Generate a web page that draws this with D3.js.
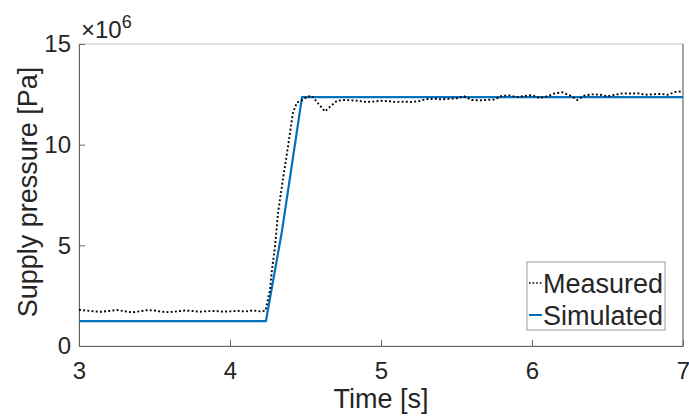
<!DOCTYPE html>
<html>
<head>
<meta charset="utf-8">
<script src="https://cdn.jsdelivr.net/npm/d3@7"></script>
<style>
  body { margin: 0; background: #fff; }
  text { font-family: "Liberation Sans", Arial, sans-serif; fill: #262626; }
</style>
</head>
<body>
<div id="chart"></div>
<script>
'use strict';

// measured supply pressure, time [s] / pressure [Pa]
var measuredTime = [3.00, 3.05, 3.10, 3.15, 3.20, 3.25, 3.30, 3.35, 3.40, 3.45, 3.50, 3.55, 3.60, 3.65, 3.70,
    3.75, 3.80, 3.85, 3.90, 3.95, 4.00, 4.05, 4.10, 4.15, 4.20, 4.235,
    4.265, 4.278, 4.298, 4.318, 4.351, 4.384, 4.417, 4.444, 4.477, 4.51, 4.543, 4.583, 4.629, 4.669, 4.709, 4.76,
    4.80, 4.85, 4.90, 4.95, 5.00, 5.05, 5.10, 5.15, 5.20, 5.25, 5.30, 5.35, 5.40, 5.45, 5.50, 5.55, 5.60, 5.65,
    5.70, 5.75, 5.80, 5.85, 5.90, 5.95, 6.00, 6.05, 6.10, 6.15, 6.20, 6.25, 6.30, 6.35, 6.40, 6.45, 6.50, 6.55,
    6.60, 6.65, 6.70, 6.75, 6.80, 6.85, 6.90, 6.95, 7.00];
var measuredPa = [1.80, 1.76, 1.72, 1.70, 1.74, 1.79, 1.73, 1.67, 1.72, 1.78, 1.76, 1.70, 1.68, 1.72, 1.76,
    1.74, 1.70, 1.73, 1.74, 1.71, 1.72, 1.75, 1.71, 1.77, 1.72, 1.75,
    2.8, 3.8, 4.95, 6.6, 8.3, 9.9, 11.6, 12.1, 12.2, 12.38, 12.42, 12.05, 11.65, 11.93, 12.18, 12.22,
    12.20, 12.18, 12.12, 12.14, 12.18, 12.16, 12.12, 12.14, 12.12, 12.16, 12.26, 12.28, 12.25, 12.28, 12.30, 12.40, 12.22, 12.20,
    12.22, 12.24, 12.42, 12.45, 12.36, 12.42, 12.46, 12.32, 12.40, 12.55, 12.60, 12.45, 12.22, 12.45, 12.50, 12.48, 12.40, 12.48,
    12.55, 12.54, 12.55, 12.48, 12.50, 12.52, 12.48, 12.62, 12.65].map(function (v) { return v * 1e6; });

// simulated supply pressure
var simulatedTime = [3.00, 4.238, 4.344, 4.477, 7.00];
var simulatedPa = [1.24e6, 1.24e6, 5.7e6, 12.36e6, 12.36e6];

var xTicks = [3, 4, 5, 6, 7];
var yTicks = [0, 5e6, 10e6, 15e6];
var seriesNames = ['Measured', 'Simulated'];

var measured = measuredTime.map(function (t, i) { return {t: t, p: measuredPa[i]}; });
var simulated = simulatedTime.map(function (t, i) { return {t: t, p: simulatedPa[i]}; });

var W = 689, H = 420;
var plot = {left: 79, right: 683, top: 44, bottom: 346};

var x = d3.scaleLinear().domain([3, 7]).range([plot.left, plot.right]);
var y = d3.scaleLinear().domain([0, 15e6]).range([plot.bottom, plot.top]);

var svg = d3.select('#chart').append('svg')
    .attr('width', W)
    .attr('height', H);

// box
svg.append('rect')
    .attr('x', plot.left).attr('y', plot.top)
    .attr('width', plot.right - plot.left).attr('height', plot.bottom - plot.top)
    .attr('fill', 'none')
    .attr('stroke', '#c4c4c4')
    .attr('stroke-width', 1);
svg.append('line')
    .attr('x1', plot.right).attr('x2', plot.right)
    .attr('y1', plot.top).attr('y2', plot.bottom)
    .attr('stroke', '#666');

// x axis, ticks pointing inwards
var xAxis = svg.append('g')
    .attr('transform', 'translate(0,' + plot.bottom + ')')
    .call(d3.axisBottom(x).tickValues(xTicks).tickSizeInner(-6).tickSizeOuter(0).tickPadding(16)
        .tickFormat(d3.format('d')));
xAxis.select('.domain').attr('stroke', '#666');
xAxis.selectAll('.tick line').attr('stroke', '#666');
xAxis.selectAll('text').attr('font-size', 24).attr('fill', '#262626')
    .attr('font-family', '"Liberation Sans", Arial, sans-serif');

// y axis
var yAxis = svg.append('g')
    .attr('transform', 'translate(' + plot.left + ',0)')
    .call(d3.axisLeft(y).tickValues(yTicks).tickSizeInner(-6).tickSizeOuter(0).tickPadding(8)
        .tickFormat(function (d) { return d / 1e6; }));
yAxis.select('.domain').attr('stroke', '#666');
yAxis.selectAll('.tick line').attr('stroke', '#666');
yAxis.selectAll('text').attr('font-size', 24).attr('fill', '#262626')
    .attr('font-family', '"Liberation Sans", Arial, sans-serif');

// exponent label
var expo = svg.append('text')
    .attr('x', 81).attr('y', 38)
    .attr('font-size', 24);
expo.append('tspan').text('\u00d710');
expo.append('tspan').attr('dy', -10).attr('font-size', 18).text('6');

// axis titles
svg.append('text')
    .attr('x', (plot.left + plot.right) / 2).attr('y', 408)
    .attr('text-anchor', 'middle')
    .attr('font-size', 27)
    .text('Time [s]');
svg.append('text')
    .attr('transform', 'translate(37,' + 192 + ') rotate(-90)')
    .attr('text-anchor', 'middle')
    .attr('font-size', 27)
    .text('Supply pressure [Pa]');

var line = d3.line()
    .x(function (d) { return x(d.t); })
    .y(function (d) { return y(d.p); });

svg.append('path')
    .datum(simulated)
    .attr('fill', 'none')
    .attr('stroke', '#0072BD')
    .attr('stroke-width', 2.2)
    .attr('stroke-linejoin', 'round')
    .attr('d', line);

svg.append('path')
    .datum(measured)
    .attr('fill', 'none')
    .attr('stroke', '#000')
    .attr('stroke-width', 1.9)
    .attr('stroke-dasharray', '1.9,2.3')
    .attr('d', line);

// legend
var lg = svg.append('g');
lg.append('rect')
    .attr('x', 527).attr('y', 262)
    .attr('width', 138).attr('height', 68)
    .attr('fill', '#fff')
    .attr('stroke', '#999');
lg.selectAll('line.key')
    .data(seriesNames)
    .enter().append('line')
    .attr('x1', 529).attr('x2', 542)
    .attr('y1', function (d, i) { return 283 + i * 32; })
    .attr('y2', function (d, i) { return 283 + i * 32; })
    .attr('stroke', function (d, i) { return i === 0 ? '#000' : '#0072BD'; })
    .attr('stroke-width', function (d, i) { return i === 0 ? 1.6 : 2; })
    .attr('stroke-dasharray', function (d, i) { return i === 0 ? '1.6,2' : null; });
lg.selectAll('text.key')
    .data(seriesNames)
    .enter().append('text')
    .attr('x', 543)
    .attr('y', function (d, i) { return 293 + i * 32; })
    .attr('font-size', 27)
    .attr('fill', '#000')
    .text(function (d) { return d; });
</script>
</body>
</html>
